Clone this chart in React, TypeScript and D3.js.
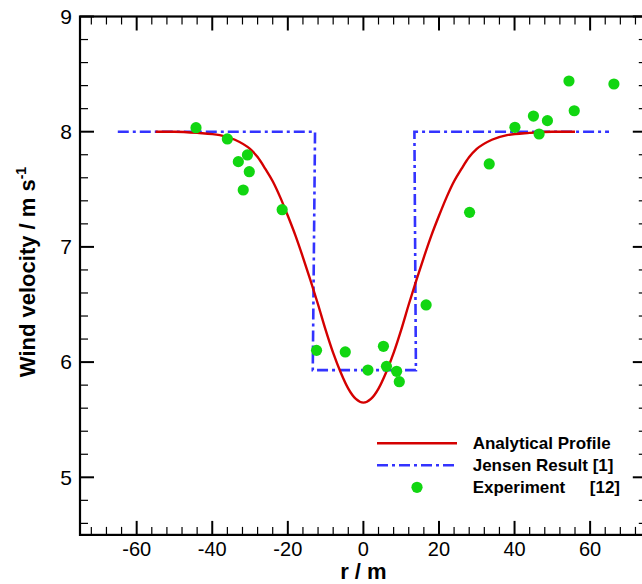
import React from 'react';
import * as d3 from 'd3';

// analytical profile
const profileR = [-55, -50, -44, -38, -34, -30, -28, -26, -24, -22, -20, -18, -16, -14, -12, -10, -8, -6, -4, -2, 0, 2, 4, 6, 8, 10, 12, 14, 16, 18, 20, 22, 24, 26, 28, 30, 34, 38, 44, 50, 56];
const profileV = [8.0, 8.0, 7.99, 7.97, 7.93, 7.85, 7.78, 7.68, 7.57, 7.43, 7.27, 7.1, 6.91, 6.71, 6.5, 6.28, 6.08, 5.91, 5.77, 5.68, 5.648, 5.68, 5.77, 5.91, 6.08, 6.28, 6.5, 6.71, 6.91, 7.1, 7.27, 7.43, 7.57, 7.68, 7.78, 7.85, 7.93, 7.97, 7.99, 8.0, 8.0];

// Jensen step profile
const jensenR = [-65, -12.8, -13.4, 13.9, 13.5, 65];
const jensenV = [8, 8, 5.93, 5.93, 8, 8];

// experiment points
const expR = [-44.3, -36.0, -30.7, -33.1, -30.2, -31.8, -21.5, -12.4, -4.8, 5.3, 1.2, 6.1, 8.8, 9.5, 16.6, 28.1, 33.3, 40.1, 46.5, 45.0, 48.7, 55.8, 54.4, 66.3];
const expV = [8.035, 7.937, 7.798, 7.74, 7.653, 7.494, 7.323, 6.102, 6.088, 6.137, 5.931, 5.963, 5.92, 5.83, 6.496, 7.3, 7.72, 8.038, 7.98, 8.136, 8.096, 8.182, 8.44, 8.414];

const xTicks = [-60, -40, -20, 0, 20, 40, 60];
const yTicks = [5, 6, 7, 8, 9];

const legendLabels = ['Analytical Profile', 'Jensen Result [1]', 'Experiment'];

const W = 642;
const H = 584;
const left = 80;
const right = 646.8;
const top = 16.5;
const bottom = 534.9;

const App = () => {
  const x = d3.scaleLinear().domain([-75, 75]).range([left, right]);
  const y = d3.scaleLinear().domain([4.5, 9]).range([bottom, top]);

  const profilePath = d3
    .line<[number, number]>()
    .x((d) => x(d[0]))
    .y((d) => y(d[1]))
    .curve(d3.curveMonotoneX)(profileR.map((r, i) => [r, profileV[i]]) as [number, number][]);
  const jensenPath = d3
    .line<[number, number]>()
    .x((d) => x(d[0]))
    .y((d) => y(d[1]))(jensenR.map((r, i) => [r, jensenV[i]]) as [number, number][]);

  const xMinor = d3.range(-72, 75, 4).filter((v) => v % 20 !== 0);
  const yMinor = d3.range(4.6, 9, 0.2).filter((v) => Math.abs(v - Math.round(v)) > 0.01);

  const red = '#d40000';
  const blue = '#3333ff';
  const green = '#11d611';

  const lx = 377;
  const rows = [443.3, 465.2, 487.3];

  return (
    <svg width={W} height={H} style={{ position: 'absolute', left: 0, top: 0, background: 'white' }}
      fontFamily="'Liberation Sans', Arial, sans-serif">
      {/* ticks */}
      <g stroke="#000">
        {xTicks.map((t) => (
          <g key={'xt' + t}>
            <line x1={x(t)} x2={x(t)} y1={bottom} y2={bottom - 14} strokeWidth={2} />
            <line x1={x(t)} x2={x(t)} y1={top} y2={top + 14} strokeWidth={2} />
          </g>
        ))}
        {xMinor.map((t) => (
          <g key={'xm' + t}>
            <line x1={x(t)} x2={x(t)} y1={bottom} y2={bottom - 8} strokeWidth={1.2} />
            <line x1={x(t)} x2={x(t)} y1={top} y2={top + 8} strokeWidth={1.2} />
          </g>
        ))}
        {yTicks.map((t) => (
          <g key={'yt' + t}>
            <line x1={left} x2={left + 14} y1={y(t)} y2={y(t)} strokeWidth={2} />
            <line x1={right} x2={right - 14} y1={y(t)} y2={y(t)} strokeWidth={2} />
          </g>
        ))}
        {yMinor.map((t) => (
          <g key={'ym' + t}>
            <line x1={left} x2={left + 8} y1={y(t)} y2={y(t)} strokeWidth={1.2} />
            <line x1={right} x2={right - 8} y1={y(t)} y2={y(t)} strokeWidth={1.2} />
          </g>
        ))}
        <rect x={left} y={top} width={right - left} height={bottom - top} fill="none" strokeWidth={2.2} />
      </g>

      {/* tick labels */}
      {xTicks.map((t) => (
        <text key={'xl' + t} x={x(t)} y={556} fontSize={20} textAnchor="middle">{t}</text>
      ))}
      {yTicks.map((t) => (
        <text key={'yl' + t} x={72} y={y(t)} dy="0.35em" fontSize={21} textAnchor="end">{t}</text>
      ))}

      {/* axis titles */}
      <text x={x(0)} y={579} fontSize={22} fontWeight="bold" textAnchor="middle">r / m</text>
      <text transform="translate(35,272) rotate(-90)" fontSize={22} fontWeight="bold" textAnchor="middle">
        Wind velocity / m s<tspan fontSize={14} dy={-9}>-1</tspan>
      </text>

      {/* series */}
      <path d={jensenPath || ''} fill="none" stroke={blue} strokeWidth={2.6} strokeDasharray="11,4,3,4" />
      <path d={profilePath || ''} fill="none" stroke={red} strokeWidth={2.4} />
      {expR.map((r, i) => (
        <circle key={'p' + i} cx={x(r)} cy={y(expV[i])} r={5.6} fill={green} />
      ))}

      {/* legend */}
      <line x1={lx} x2={lx + 80} y1={rows[0]} y2={rows[0]} stroke={red} strokeWidth={2.4} />
      <line x1={lx} x2={lx + 80} y1={rows[1]} y2={rows[1]} stroke={blue} strokeWidth={2.6} strokeDasharray="11,4,3,4" />
      <circle cx={lx + 40} cy={rows[2]} r={5.6} fill={green} />
      {legendLabels.map((s, i) => (
        <text key={s} x={472.7} y={rows[i] + 6} fontSize={17} fontWeight="bold">{s}</text>
      ))}
      <text x={620} y={rows[2] + 6} fontSize={17} fontWeight="bold" textAnchor="end">[12]</text>
    </svg>
  );
};

export default App;
